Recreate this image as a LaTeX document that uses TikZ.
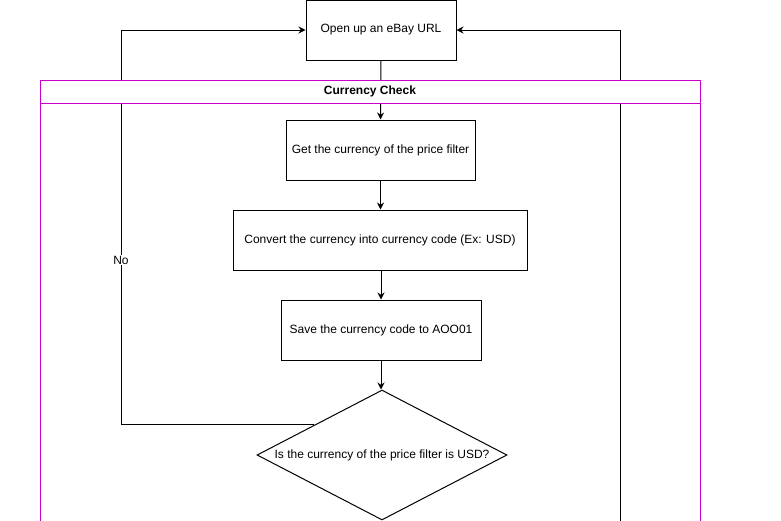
\documentclass[tikz,border=0pt]{standalone}
\usepackage{fontspec}
\setmainfont{Liberation Sans}
\usetikzlibrary{arrows.meta,shapes.geometric,calc}
\definecolor{lane}{HTML}{CC00CC}
\tikzset{
  stepbox/.style={draw=black,line width=1pt,fill=white,inner sep=0pt,font=\fontsize{12}{14}\selectfont},
  conn/.style={draw=black,line width=1pt},
  arr/.style={conn,-{Stealth[length=7pt,width=7pt]}},
  lbl/.style={font=\fontsize{12}{14}\selectfont,fill=white,inner sep=1pt}
}
\begin{document}
\begin{tikzpicture}[x=1pt,y=-1pt]
\useasboundingbox (0,0) rectangle (781,520);
% swimlane body
\draw[lane,line width=1pt] (40,560) -- (40,80) -- (700,80) -- (700,560);
% nodes
\node[stepbox,minimum width=150pt,minimum height=60pt] (open) at (381,30) {Open up an eBay URL};
\node[stepbox,minimum width=189pt,minimum height=60pt] (get) at (380.5,150) {Get the currency of the price filter};
\node[stepbox,minimum width=294pt,minimum height=60pt] (conv) at (380,240) {Convert the currency into currency code (Ex: USD)};
\node[stepbox,minimum width=200pt,minimum height=60pt] (save) at (381,330) {Save the currency code to AOO01};
\node[draw=black,line width=1pt,diamond,minimum width=250pt,minimum height=130pt,inner sep=0pt] (dec) at (382,455) {};
\node[font=\fontsize{12}{14}\selectfont] (dectext) at (382,455) {Is the currency of the price filter is USD?};
% connectors
\draw[arr] (open.south) -- (get.north);
\draw[arr] (get.south) -- (conv.north -| get.south);
\draw[arr] (conv.south -| save.north) -- (save.north);
\draw[arr] (save.south) -- (dec.north -| save.south);
\coordinate (noA) at ($(dec.north)!0.54!(dec.west)$);
\coordinate (noC) at (121,30);
\draw[arr] (noA) -- (noA -| noC) -- (noC) -- (open.west);
\node[lbl] (nolbl) at (121,260) {No};
\coordinate (yesA) at (620,560);
\coordinate (yesB) at (620,30);
\draw[arr] (yesA) -- (yesB) -- (open.east);
\node[lbl] (yeslbl) at (620,527) {Yes};
% swimlane header on top
\draw[lane,line width=1pt,fill=white] (40,80) rectangle (700,103);
\node[font=\fontsize{12}{14}\selectfont\bfseries] (lanetitle) at (370,91.5) {Currency Check};
\end{tikzpicture}
\end{document}
